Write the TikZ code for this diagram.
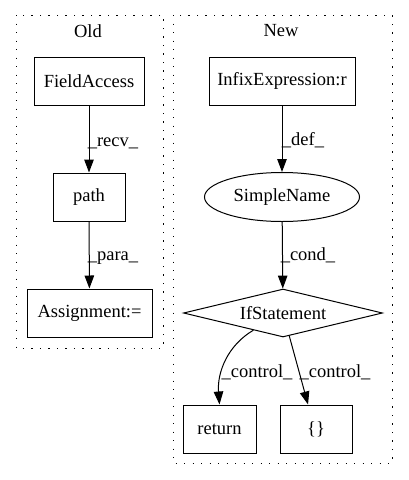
\documentclass[tikz,border=0pt]{standalone}
\usepackage{fontspec}
\setmainfont{Liberation Serif}
\usetikzlibrary{arrows.meta}
\usetikzlibrary{shapes.geometric}

\tikzset{
  every node/.style={font=\fontsize{18.5}{22}\selectfont},
  blk/.style={draw, line width=1pt, rectangle, inner sep=0pt, minimum height=48pt},
  ell/.style={draw, line width=1pt, ellipse, inner sep=0pt, minimum width=155pt, minimum height=49pt},
  dia/.style={draw, line width=1pt, diamond, aspect=4, inner sep=0pt, minimum width=199pt, minimum height=48pt},
  lab/.style={inner sep=1pt},
  flow/.style={draw, line width=1pt, -{Triangle[length=13pt,width=9.5pt]}},
  cluster/.style={draw, line width=1pt, dash pattern=on 1.3pt off 7.2pt}
}

\begin{document}
\begin{tikzpicture}[x=1pt,y=-1pt]
\useasboundingbox (0,0) rectangle (408,480);
% clusters
\draw[cluster] (16,15) rectangle (163,348);
\node (old) at (88,31) {Old};
\draw[cluster] (173,15) rectangle (392,463);
\node (new) at (281,31) {New};
% old side
\node[blk, minimum width=110pt] (fa) at (89,81) {FieldAccess};
\node[blk, minimum width=72pt] (path) at (89,197) {path};
\node[blk, minimum width=125pt] (asg) at (89.5,313) {Assignment:=};
\draw[flow] (fa) -- (path);
\node[lab] (lrecv) at (113,143) {\_recv\_};
\draw[flow] (path) -- (asg);
\node[lab] (lpara) at (113,258) {\_para\_};
% new side
\node[blk, minimum width=146pt] (infix) at (282,81) {InfixExpression:r};
\node[ell] (sname) at (282,197) {SimpleName};
\node[dia] (ifst) at (283,313) {IfStatement};
\node[blk, minimum width=73pt] (ret) at (219.5,429) {return};
\node[blk, minimum width=72pt] (brace) at (316,429) {\{\}};
\draw[flow] (infix) -- (sname);
\node[lab] (ldef) at (303,140) {\_def\_};
\draw[flow] (sname) -- (ifst);
\node[lab] (lcond) at (308,255) {\_cond\_};
\draw[flow] (ifst) .. controls (228,345) and (217,372) .. (ret.north);
\node[lab] (lctrla) at (257,372) {\_control\_};
\draw[flow] (ifst) -- (brace.108);
\node[lab] (lctrlb) at (335,372) {\_control\_};
\end{tikzpicture}
\end{document}
